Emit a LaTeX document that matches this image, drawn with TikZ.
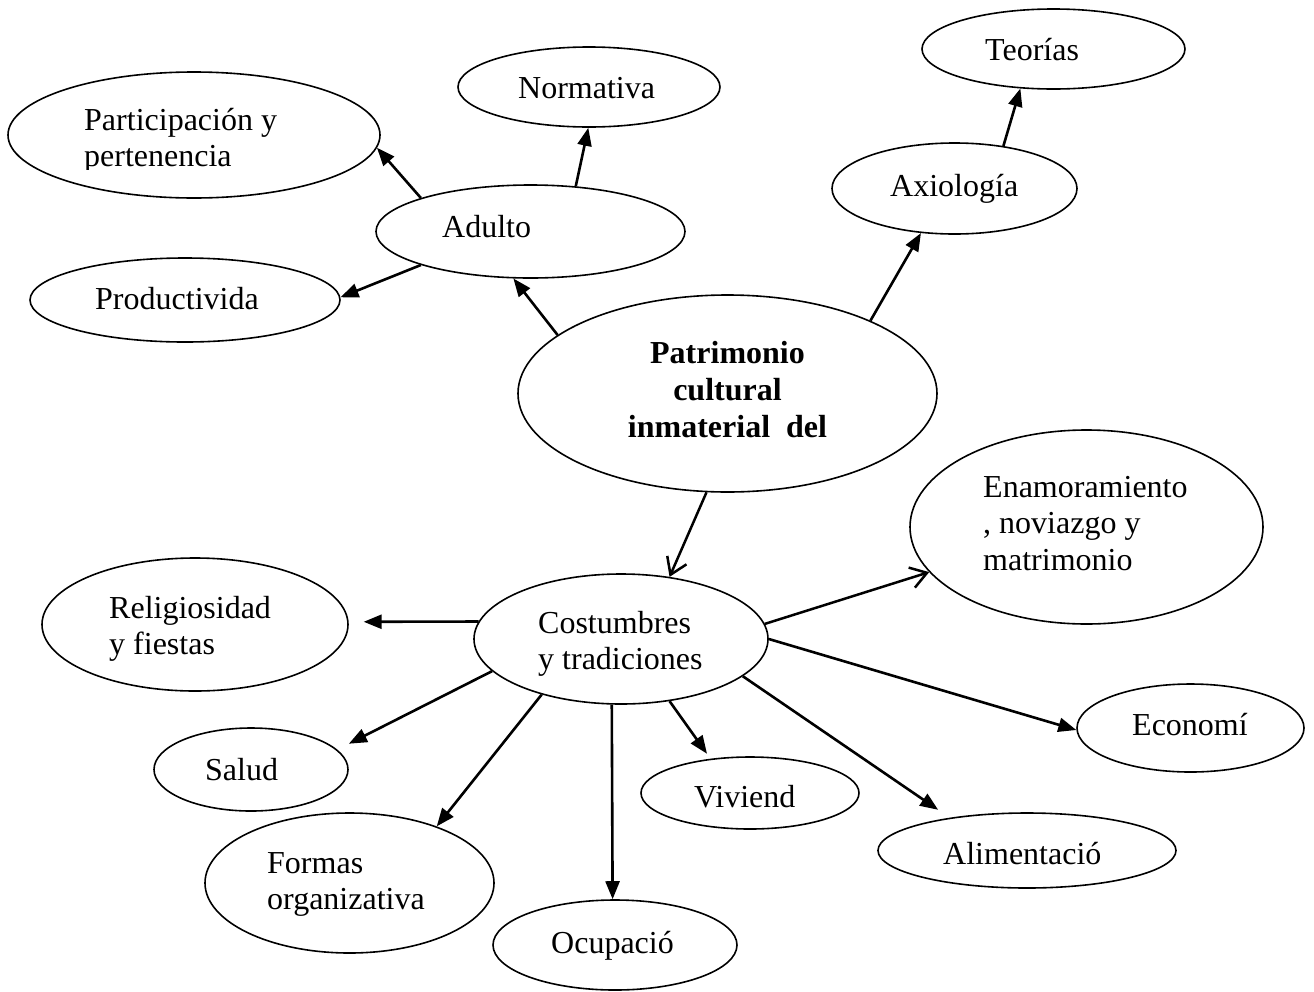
\documentclass[tikz,border=0pt]{standalone}
\usepackage{fontspec}
\setmainfont{Liberation Serif}
\usetikzlibrary{shapes.geometric,arrows.meta}
\begin{document}
\begin{tikzpicture}[x=1pt,y=-1pt,
  el/.style 2 args={ellipse,draw,line width=1.6pt,minimum width=#1,minimum height=#2,inner sep=0pt},
  txt/.style={anchor=base west,inner sep=0pt,align=left,font=\fontsize{32}{36.5}\selectfont},
  ctxt/.style={anchor=base,inner sep=0pt,align=center,font=\bfseries\fontsize{32}{37}\selectfont},
  arr/.style={line width=2.6pt,-{Triangle[length=18pt,width=14pt]}},
  oarr/.style={line width=2.5pt,-{Straight Barb[length=16pt,width=21pt,line width=2.5pt]}}]
\useasboundingbox[fill=white] (0,0) rectangle (1314,991);

% ellipses
\node[el={263pt}{80pt}] (teorias) at (1053.5,49) {};
\node[el={262pt}{80pt}] (normativa) at (589,87) {};
\node[el={372pt}{126pt}] (particip) at (194,135) {};
\node[el={245pt}{91pt}] (axiologia) at (954.5,188.5) {};
\node[el={309pt}{93pt}] (adulto) at (530.5,231.5) {};
\node[el={310pt}{84pt}] (productiv) at (185,300) {};
\node[el={419pt}{197pt}] (patrimonio) at (727.5,393.5) {};
\node[el={353pt}{194pt}] (enamor) at (1086.5,527) {};
\node[el={306pt}{133pt}] (religios) at (195,624.5) {};
\node[el={294pt}{130pt}] (costumbres) at (621,639) {};
\node[el={194pt}{83pt}] (salud) at (251,769.5) {};
\node[el={227pt}{88pt}] (economi) at (1190.5,728) {};
\node[el={218pt}{72pt}] (viviend) at (750,793) {};
\node[el={298pt}{75pt}] (alimenta) at (1027,850.5) {};
\node[el={289pt}{140pt}] (formas) at (349.5,883) {};
\node[el={244pt}{90pt}] (ocupacio) at (615,945) {};

% texts (base anchor = baseline of the last line)
\node[txt] (teoriasT) at (985,60) {Teorías};
\node[txt] (normativaT) at (518,98) {Normativa};
\begin{scope}
\clip (0,0) rectangle (400,169);
\node[txt] (participT) at (84,166.5) {Participación y\\pertenencia};
\end{scope}
\node[txt] (axiologiaT) at (890,196) {Axiología};
\node[txt] (adultoT) at (442,237) {Adulto};
\node[txt] (productivT) at (95,309) {Productivida};
\node[ctxt] (patrimonioT) at (727.5,437) {Patrimonio\\cultural\\inmaterial\ \ del};
\node[txt] (enamorT) at (983,570) {Enamoramiento\\, noviazgo y\\matrimonio};
\node[txt] (religiosT) at (109,654.5) {Religiosidad\\y fiestas};
\node[txt] (costumbresT) at (538,669.5) {Costumbres\\y tradiciones};
\node[txt] (saludT) at (205,780) {Salud};
\node[txt] (economiT) at (1132,735) {Economí};
\node[txt] (viviendT) at (694,807) {Viviend};
\node[txt] (formasT) at (267,909.5) {Formas\\organizativa};
\node[txt] (alimentaT) at (943,864) {Alimentació};
\node[txt] (ocupacioT) at (551,953) {Ocupació};

% connectors
\draw[arr] (adulto.163.1) -- (particip.-4.7);
\draw[arr] (adulto.45) -- (normativa.-91.4);
\draw[arr] (adulto.197.3) -- (productiv.1.8);
\draw[arr] (patrimonio.161.2) -- (adulto.250.2);
\draw[arr] (patrimonio.27.6) -- (axiologia.233.2);
\draw[arr] (axiologia.41.5) -- (teorias.230.9);
\draw[oarr] (patrimonio.258.2) -- (costumbres.52.2);
\draw[oarr] (costumbres.6.2) -- (enamor.196.9);
\draw[arr,shorten >=15pt] (costumbres.173.8) -- (religios.1.5);
\draw[arr,shorten >=13pt] (costumbres.194.6) -- (salud.13.5);
\draw[arr] (costumbres.215.8) -- (formas.33.8);
\draw[arr] (costumbres.262.1) -- (ocupacio.93.8);
\draw[arr,shorten >=6pt] (costumbres.308.7) -- (viviend.139.2);
\draw[arr,shorten >=14pt] (costumbres.343.2) -- (alimenta.157.8);
\draw[arr] (costumbres.-0.4) -- (economi.181);
\end{tikzpicture}
\end{document}
